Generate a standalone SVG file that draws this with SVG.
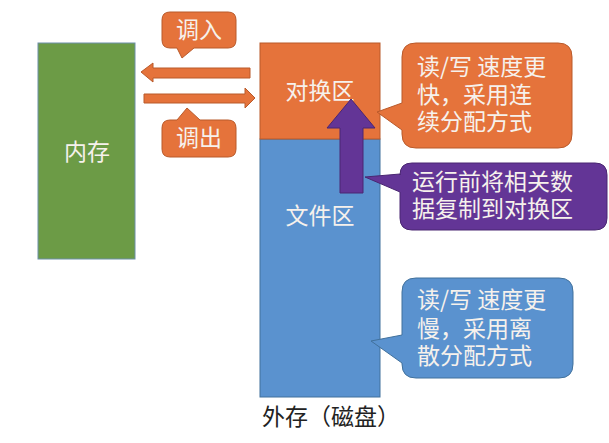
<svg xmlns="http://www.w3.org/2000/svg" width="609" height="443" viewBox="0 0 609 443">
<style>
text{font-family:"Noto Sans CJK SC","Noto Sans",sans-serif;font-size:23px;fill:#F6F1EC}
.c{text-anchor:middle}
.or{fill:#E5733B;stroke:#B95A2B;stroke-width:1}
.bl{fill:#5A92CF;stroke:#41719C;stroke-width:1}
.pu{fill:#633596;stroke:#4A2672;stroke-width:1}
.gr{fill:#6C9B46;stroke:#6D8FA8;stroke-width:1}
</style>
<rect width="609" height="443" fill="#FFFFFF"/>
<g id="memory">
<rect class="gr" x="38" y="43" width="97" height="216"/>
<text class="c" x="87" y="160">内存</text>
</g>
<g id="external">
<rect class="bl" x="260" y="139" width="120" height="258"/>
<rect class="or" x="260" y="43" width="120" height="96"/>
<text class="c" x="320" y="99">对换区</text>
<text class="c" x="320" y="224">文件区</text>
<text x="262" y="425" style="fill:#222222">外存（磁盘）</text>
</g>
<g id="connectors">
<polygon class="or" points="141,72 153,63 153,68 250,68 250,78 153,78 153,82"/>
<polygon class="or" points="144,94 245,94 245,88 255,98 245,108 245,103 144,103"/>
<polygon class="pu" points="351,99 375,128 363,128 363,193 340,193 340,128 327,128"/>
</g>
<g id="callout-in">
<path class="or" d="M170,12 H228 Q236,12 236,20 V40 Q236,48 228,48 H194 L182,58 L177,48 H170 Q162,48 162,40 V20 Q162,12 170,12 Z"/>
<text class="c" x="199" y="38">调入</text>
</g>
<g id="callout-out">
<path class="or" d="M170,120 H177 L187,108 L200,120 H228 Q236,120 236,128 V149 Q236,157 228,157 H170 Q162,157 162,149 V128 Q162,120 170,120 Z"/>
<text class="c" x="199" y="146">调出</text>
</g>
<g id="callout-swap">
<path class="or" d="M416,43 H558 Q572,43 572,57 V134 Q572,148 558,148 H416 Q402,148 402,134 V130 L377,112 L402,103 V57 Q402,43 416,43 Z"/>
<text x="417" y="75">读/写 速度更</text>
<text x="417" y="103">快，采用连</text>
<text x="417" y="130">续分配方式</text>
</g>
<g id="callout-copy">
<path class="pu" d="M412,163 H595 Q607,163 607,175 V218 Q607,230 595,230 H412 Q400,230 400,218 V192 L365,177 L400,174 V175 Q400,163 412,163 Z"/>
<text x="412" y="190">运行前将相关数</text>
<text x="412" y="217">据复制到对换区</text>
</g>
<g id="callout-file">
<path class="bl" d="M416,278 H559 Q573,278 573,292 V364 Q573,378 559,378 H416 Q402,378 402,364 V363 L371,341 L402,335 V292 Q402,278 416,278 Z"/>
<text x="417" y="308">读/写 速度更</text>
<text x="417" y="337">慢，采用离</text>
<text x="417" y="364">散分配方式</text>
</g>
</svg>
